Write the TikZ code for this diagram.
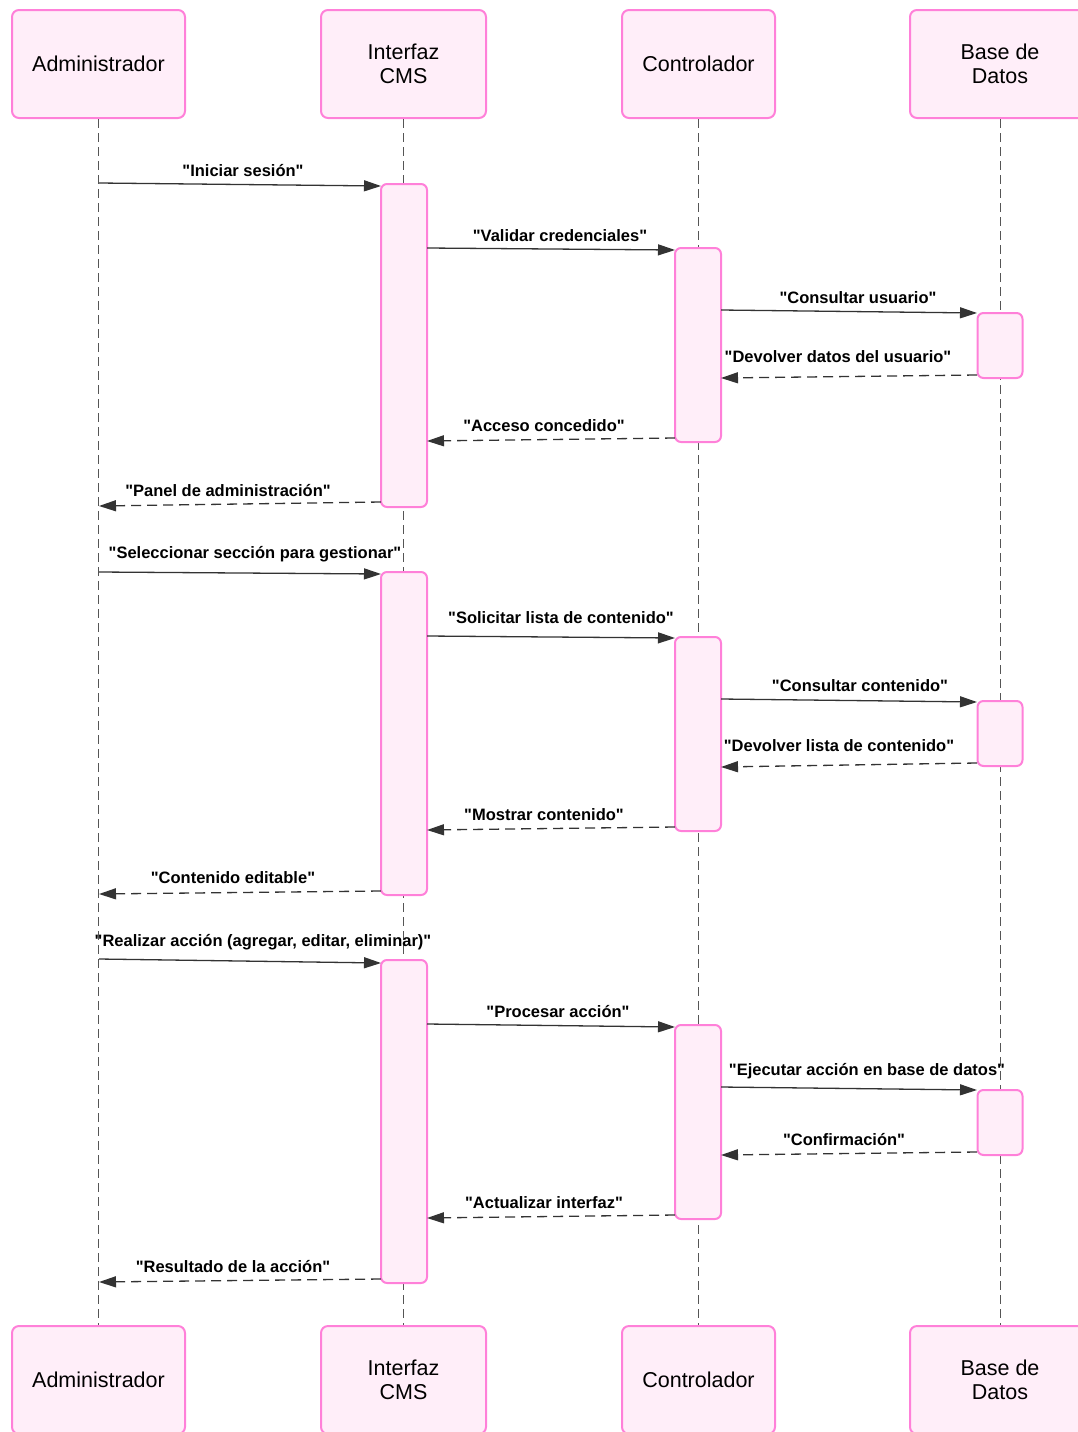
\documentclass[tikz,border=0pt]{standalone}
\usepackage{fontspec}
\setmainfont{Liberation Sans}[Ligatures=TeXOff]
\usetikzlibrary{arrows.meta}
\definecolor{boxfill}{HTML}{FFEEF9}
\definecolor{boxline}{HTML}{FF80D9}
\definecolor{arrowc}{HTML}{333333}
\definecolor{lifec}{HTML}{555555}
\newcommand{\qq}[1]{"#1"}
\tikzset{
  actor/.style={draw=boxline, fill=boxfill, line width=2pt, rounded corners=7pt,
    minimum height=108pt, align=center, font=\fontsize{21.5}{24}\selectfont, inner sep=0pt},
  act/.style={draw=boxline, fill=boxfill, line width=2pt, rounded corners=6pt,
    minimum width=46pt, inner sep=0pt, anchor=north},
  life/.style={draw=lifec, line width=1pt, dash pattern=on 9pt off 5pt},
  msg/.style={draw=arrowc, line width=1.3pt, -{Triangle[length=17pt,width=11pt]}},
  ret/.style={msg, dash pattern=on 10pt off 6pt},
  lbl/.style={font=\bfseries\fontsize{16.5}{18}\selectfont, inner sep=0pt},
}
\begin{document}
\begin{tikzpicture}[x=1pt,y=-1pt]
\useasboundingbox (0,0) rectangle (1078,1432);
% actors top
\node[actor, minimum width=173pt] (adm) at (98.5,64) {Administrador};
\node[actor, minimum width=165pt] (cms) at (403.5,64) {Interfaz\\CMS};
\node[actor, minimum width=153pt] (ctl) at (698.5,64) {Controlador};
\node[actor, minimum width=180pt] (db) at (1000,64) {Base de\\Datos};
% actors bottom
\node[actor, minimum width=173pt] (admb) at (98.5,1380) {Administrador};
\node[actor, minimum width=165pt] (cmsb) at (403.5,1380) {Interfaz\\CMS};
\node[actor, minimum width=153pt] (ctlb) at (698.5,1380) {Controlador};
\node[actor, minimum width=180pt] (dbb) at (1000,1380) {Base de\\Datos};
% lifelines
\draw[life] (adm.south) -- (admb.north);
\draw[life] (cms.south) -- (cmsb.north);
\draw[life] (ctl.south) -- (ctlb.north);
\draw[life] (db.south) -- (dbb.north);
% activations
\node[act, minimum height=323pt] (i1) at (404,183) {};
\node[act, minimum height=323pt] (i2) at (404,571) {};
\node[act, minimum height=323pt] (i3) at (404,959) {};
\node[act, minimum height=194pt] (c1) at (698,247) {};
\node[act, minimum height=194pt] (c2) at (698,636) {};
\node[act, minimum height=194pt] (c3) at (698,1024) {};
\node[act, minimum height=65pt, minimum width=45pt] (d1) at (1000,312) {};
\node[act, minimum height=65pt, minimum width=45pt] (d2) at (1000,700) {};
\node[act, minimum height=65pt, minimum width=45pt] (d3) at (1000,1089) {};
% message end points
\foreach \n/\x/\y in {
  a1/99/183, b1/381/186, a2/427/248, b2/675/250, a3/721/310, b3/977/313,
  a4/977/375, b4/721/378, a5/675/438, b5/427/441, a6/381/502, b6/99/506,
  a7/99/572, b7/381/574, a8/427/636, b8/675/638, a9/721/699, b9/977/702,
  a10/977/763, b10/721/767, a11/675/827, b11/427/830, a12/381/891, b12/99/894,
  a13/99/959, b13/381/963, a14/427/1024, b14/675/1027, a15/721/1087, b15/977/1090,
  a16/977/1152, b16/721/1155, a17/675/1215, b17/427/1218, a18/381/1279, b18/99/1282}
  {\coordinate (\n) at (\x,\y);}
% messages
\draw[msg] (a1) -- (b1);
\node[lbl] (l1) at (243,171) {\qq{Iniciar sesión}};
\draw[msg] (a2) -- (b2);
\node[lbl] (l2) at (560,236) {\qq{Validar credenciales}};
\draw[msg] (a3) -- (b3);
\node[lbl] (l3) at (858,298) {\qq{Consultar usuario}};
\draw[ret] (a4) -- (b4);
\node[lbl] (l4) at (838,357) {\qq{Devolver datos del usuario}};
\draw[ret] (a5) -- (b5);
\node[lbl] (l5) at (544,426) {\qq{Acceso concedido}};
\draw[ret] (a6) -- (b6);
\node[lbl] (l6) at (228,491) {\qq{Panel de administración}};
\draw[msg] (a7) -- (b7);
\node[lbl] (l7) at (255,554) {\qq{Seleccionar sección para gestionar}};
\draw[msg] (a8) -- (b8);
\node[lbl] (l8) at (561,618) {\qq{Solicitar lista de contenido}};
\draw[msg] (a9) -- (b9);
\node[lbl] (l9) at (860,686) {\qq{Consultar contenido}};
\draw[ret] (a10) -- (b10);
\node[lbl] (l10) at (839,746) {\qq{Devolver lista de contenido}};
\draw[ret] (a11) -- (b11);
\node[lbl] (l11) at (544,815) {\qq{Mostrar contenido}};
\draw[ret] (a12) -- (b12);
\node[lbl] (l12) at (233,878) {\qq{Contenido editable}};
\draw[msg] (a13) -- (b13);
\node[lbl] (l13) at (263,942) {\qq{Realizar acción (agregar, editar, eliminar)}};
\draw[msg] (a14) -- (b14);
\node[lbl] (l14) at (558,1012) {\qq{Procesar acción}};
\draw[msg] (a15) -- (b15);
\node[lbl] (l15) at (867,1071) {\qq{Ejecutar acción en base de datos}};
\draw[ret] (a16) -- (b16);
\node[lbl] (l16) at (844,1140) {\qq{Confirmación}};
\draw[ret] (a17) -- (b17);
\node[lbl] (l17) at (544,1203) {\qq{Actualizar interfaz}};
\draw[ret] (a18) -- (b18);
\node[lbl] (l18) at (233,1267) {\qq{Resultado de la acción}};
\end{tikzpicture}
\end{document}
